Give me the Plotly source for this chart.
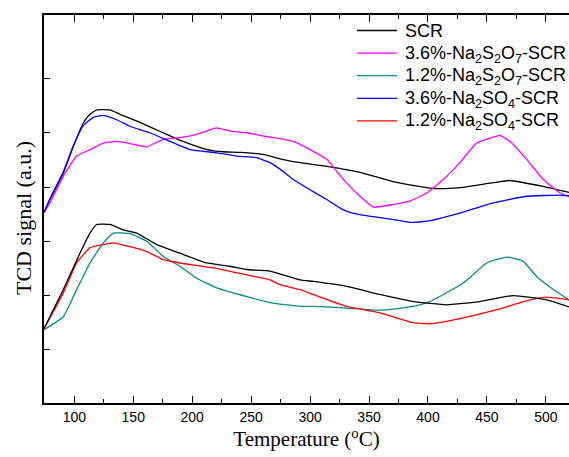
import plotly.graph_objects as go

# Temperature (°C) and TCD signal (a.u., stacked curves) for each catalyst
scr_hi_t = [74.3, 79.4, 90.7, 99.2, 107.6, 113.3, 119.0, 130.3, 138.8, 155.7, 175.3, 192.2,
            212.6, 226.1, 240.6, 260.1, 274.5, 285.5, 314.4, 342.4, 370.4, 399.2, 407.7,
            427.2, 455.2, 469.6, 497.6, 519.6]
scr_hi_v = [3.53, 3.77, 4.26, 4.75, 5.18, 5.34, 5.42, 5.42, 5.34, 5.19, 5.00, 4.84,
            4.69, 4.65, 4.64, 4.60, 4.52, 4.47, 4.38, 4.27, 4.10, 3.99, 3.97,
            3.99, 4.08, 4.12, 4.01, 3.90]

na2s2o7_36_t = [74.3, 79.4, 90.7, 102.0, 113.3, 124.6, 136.0, 147.2, 161.4, 175.5, 189.7,
                203.8, 220.8, 232.1, 246.2, 260.3, 274.5, 285.8, 299.9, 314.1, 328.2,
                342.3, 353.6, 370.6, 384.7, 398.9, 413.0, 427.1, 441.3, 455.4, 461.1,
                469.6, 483.7, 497.8, 512.0, 519.6]
na2s2o7_36_v = [3.53, 3.71, 4.20, 4.57, 4.69, 4.81, 4.84, 4.80, 4.74, 4.88, 4.91,
                4.97, 5.09, 5.03, 5.00, 4.94, 4.89, 4.84, 4.69, 4.51, 4.14,
                3.83, 3.63, 3.68, 3.74, 3.89, 4.14, 4.45, 4.81, 4.92, 4.95,
                4.84, 4.51, 4.14, 3.89, 3.82]

na2so4_36_t = [74.3, 79.4, 90.7, 99.2, 107.6, 115.9, 124.6, 136.0, 147.2, 164.2, 181.2,
               198.1, 220.8, 237.7, 254.7, 266.0, 274.5, 285.8, 299.9, 314.1, 328.2,
               342.3, 370.6, 384.7, 398.9, 427.1, 455.4, 483.7, 512.0, 519.6]
na2so4_36_v = [3.53, 3.79, 4.28, 4.76, 5.13, 5.28, 5.32, 5.24, 5.12, 5.00, 4.84,
               4.69, 4.63, 4.57, 4.54, 4.45, 4.33, 4.14, 3.95, 3.77, 3.58,
               3.49, 3.40, 3.35, 3.37, 3.52, 3.71, 3.83, 3.85, 3.84]

scr_lo_t = [74.3, 90.7, 104.8, 113.3, 119.0, 130.3, 141.6, 152.9, 169.9, 189.7, 212.3,
            232.1, 246.2, 266.0, 291.5, 302.7, 331.1, 359.3, 387.5, 415.9, 444.1,
            472.4, 500.7, 519.6]
scr_lo_v = [1.39, 2.11, 2.78, 3.15, 3.31, 3.31, 3.21, 3.15, 2.94, 2.78, 2.60,
            2.54, 2.48, 2.45, 2.29, 2.26, 2.17, 2.02, 1.89, 1.83, 1.89,
            2.00, 1.92, 1.79]

na2s2o7_12_t = [74.3, 90.7, 102.0, 113.3, 124.6, 133.1, 147.2, 161.4, 175.5, 189.7, 203.8,
                220.8, 246.2, 268.8, 291.5, 302.7, 331.1, 359.3, 387.5, 401.7, 430.0,
                449.8, 466.7, 480.8, 492.2, 506.3, 519.6]
na2s2o7_12_v = [1.37, 1.61, 2.11, 2.60, 2.97, 3.15, 3.14, 3.00, 2.72, 2.54, 2.32,
                2.14, 1.98, 1.86, 1.80, 1.80, 1.77, 1.73, 1.80, 1.89, 2.23,
                2.60, 2.71, 2.63, 2.35, 2.11, 1.92]

na2so4_12_t = [74.3, 90.7, 102.0, 113.3, 124.6, 133.1, 147.2, 161.4, 175.5, 189.7, 217.9,
               246.2, 266.0, 274.5, 291.5, 302.7, 331.1, 359.3, 387.5, 401.7, 430.0,
               458.3, 486.5, 500.7, 519.6]
na2so4_12_v = [1.39, 2.05, 2.60, 2.88, 2.94, 2.97, 2.90, 2.81, 2.66, 2.60, 2.51,
               2.38, 2.29, 2.20, 2.11, 2.02, 1.80, 1.68, 1.50, 1.48, 1.59,
               1.74, 1.92, 1.97, 1.92]

# (legend label, x, y, colour, listed in legend)
series = [
    ("SCR", scr_hi_t, scr_hi_v, "#000000", True),
    ("3.6%-Na<sub>2</sub>S<sub>2</sub>O<sub>7</sub>-SCR", na2s2o7_36_t, na2s2o7_36_v, "#FF00FF", True),
    ("1.2%-Na<sub>2</sub>S<sub>2</sub>O<sub>7</sub>-SCR", na2s2o7_12_t, na2s2o7_12_v, "#008B8B", True),
    ("3.6%-Na<sub>2</sub>SO<sub>4</sub>-SCR", na2so4_36_t, na2so4_36_v, "#0000FF", True),
    ("1.2%-Na<sub>2</sub>SO<sub>4</sub>-SCR", na2so4_12_t, na2so4_12_v, "#FF0000", True),
    ("SCR", scr_lo_t, scr_lo_v, "#000000", False),
]

W, H = 569, 457
ML, MR, MT, MB = 44, 0, 15, 54
PW, PH = W - ML - MR, H - MT - MB


def px_to_paper(px, py):
    return (px - ML) / PW, (H - MB - py) / PH


fig = go.Figure()
for name, t, v, color, _ in series:
    fig.add_trace(go.Scatter(
        x=t, y=v, mode="lines", name=name, showlegend=False,
        line=dict(color=color, width=1.3, shape="spline", smoothing=0.4),
    ))

# Legend drawn as line samples plus labels for longer samples and tighter rows
shapes, annotations = [], []
row_y0, row_gap = 30.5, 22.6
legend_items = [s for s in series if s[4]]
for i, (name, _, _, color, _) in enumerate(legend_items):
    ry = row_y0 + i * row_gap
    x0, y0 = px_to_paper(357, ry)
    x1, _ = px_to_paper(397, ry)
    shapes.append(dict(type="line", xref="paper", yref="paper",
                       x0=x0, x1=x1, y0=y0, y1=y0,
                       line=dict(color=color, width=1.3)))
    tx, ty = px_to_paper(403, ry + 1)
    annotations.append(dict(xref="paper", yref="paper", x=tx, y=ty,
                            xanchor="left", yanchor="middle", showarrow=False,
                            text=name,
                            font=dict(size=18, family="Liberation Sans, Arial, sans-serif",
                                      color="#000000")))

# y-axis title
tx, ty = px_to_paper(24, 218)
annotations.append(dict(xref="paper", yref="paper", x=tx, y=ty,
                        xanchor="center", yanchor="middle", showarrow=False,
                        textangle=-90, text="TCD signal (a.u.)",
                        font=dict(size=22, family="Liberation Serif, Times New Roman, serif",
                                  color="#000000")))

fig.update_layout(
    width=W, height=H,
    margin=dict(l=ML, r=MR, t=MT, b=MB),
    plot_bgcolor="white", paper_bgcolor="white",
    font=dict(family="Liberation Sans, Arial, sans-serif", color="#000000"),
    showlegend=False,
    shapes=shapes,
    annotations=annotations,
    xaxis=dict(
        range=[74.3, 519.6], tickvals=[100, 150, 200, 250, 300, 350, 400, 450, 500],
        ticks="inside", ticklen=7, tickwidth=1.2, tickcolor="#000000",
        minor=dict(tickvals=[125, 175, 225, 275, 325, 375, 425, 475],
                   ticks="inside", ticklen=4, tickwidth=1.2, tickcolor="#000000"),
        showline=True, linecolor="#000000", linewidth=1.5, mirror="ticks",
        showgrid=False, zeroline=False,
        tickfont=dict(size=14),
        title=dict(text="Temperature (<sup>o</sup>C)", standoff=8,
                   font=dict(size=21, family="Liberation Serif, Times New Roman, serif")),
    ),
    yaxis=dict(
        range=[0.02, 7.17], tickvals=[1, 2, 3, 4, 5, 6], showticklabels=False,
        ticks="inside", ticklen=6, tickwidth=1.2, tickcolor="#000000",
        showline=True, linecolor="#000000", linewidth=1.5, mirror=False,
        showgrid=False, zeroline=False,
    ),
)

fig.write_html("out.html")
